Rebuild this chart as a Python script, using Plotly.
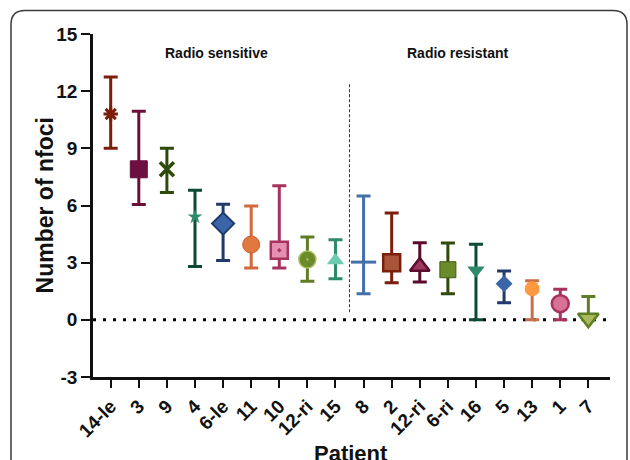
import plotly.graph_objects as go

patients = ["14-le", "3", "9", "4", "6-le", "11", "10", "12-ri", "15",
            "8", "2", "12-ri", "6-ri", "16", "5", "13", "1", "7"]
means = [10.8, 7.9, 7.9, 5.4, 5.05, 3.95, 3.65, 3.17, 3.12,
         3.03, 3.0, 2.8, 2.63, 2.6, 1.9, 1.63, 0.85, 0.08]
upper = [12.75, 10.95, 9.0, 6.8, 6.07, 5.98, 7.03, 4.35, 4.2,
         6.5, 5.6, 4.05, 4.03, 3.96, 2.56, 2.05, 1.6, 1.23]
lower = [9.0, 6.05, 6.68, 2.8, 3.12, 2.72, 2.72, 2.03, 2.16,
         1.37, 1.95, 1.98, 1.37, 0.0, 0.89, 0.0, 0.0, 0.0]
group_labels = ["Radio sensitive", "Radio resistant"]
y_ticks = [-3, 0, 3, 6, 9, 12, 15]

err_colors = ["#7B1E0A", "#6B0F3A", "#2E4A0A", "#0C4A34", "#1F3A6B", "#D2693A",
              "#A8325E", "#5E7D24", "#2E8B6A", "#4470A8", "#7A1F0A", "#5C0A2E",
              "#2F4A0A", "#0C4A34", "#1F3A6B", "#C8704A", "#A8325E", "#5E7D24"]
symbols = ["asterisk-open", "square", "x-thin-open", "star", "diamond", "circle",
           "square-dot", "circle-dot", "triangle-up", "line-ew-open", "square", "triangle-up",
           "square", "triangle-down", "diamond", "circle", "circle", "triangle-down"]
fills = ["#7B1E0A", "#6B1040", "#2E4A0A", "#2E8B6A", "#3A66A8", "#E07840",
         "#E590B0", "#6B8A2A", "#6CCBB0", "#4470A8", "#A9553A", "#9B3A60",
         "#6B8A2A", "#2E8B6A", "#3A66A8", "#FF9A40", "#D87098", "#A9B85A"]
line_cols = ["#7B1E0A", "#6B1040", "#2E4A0A", "#2E8B6A", "#1F3A6B", "#C86030",
             "#A8325E", "#A8BC60", "#6CCBB0", "#4470A8", "#7A1F0A", "#5C0A2E",
             "#3F5A12", "#2E8B6A", "#3A66A8", "#FF9A40", "#A8325E", "#5E7D24"]
line_ws = [3, 1, 3.5, 0, 2, 1, 2.5, 1.5, 0, 3, 2.5, 2.5, 1, 0, 0, 0, 2.5, 2.5]
sizes = [12, 17, 14, 11, 17, 17, 17, 17, 15, 18, 17, 17, 16, 15, 13, 15, 17, 18]

FONT = "Arial, Liberation Sans, sans-serif"
fig = go.Figure()

for i, p in enumerate(patients):
    fig.add_trace(go.Scatter(
        x=[i], y=[means[i]], mode="markers", showlegend=False,
        error_y=dict(type="data", symmetric=False,
                     array=[upper[i] - means[i]], arrayminus=[means[i] - lower[i]],
                     color=err_colors[i], thickness=3, width=7),
        marker=dict(symbol=symbols[i], size=sizes[i], color=fills[i],
                    line=dict(color=line_cols[i], width=line_ws[i])),
        name=p,
    ))

n = len(patients)
# zero reference line (dotted)
fig.add_shape(type="line", xref="paper", yref="y", x0=0, x1=1, y0=0, y1=0,
              line=dict(color="black", width=3, dash="3px,7px"), layer="below")
# group separator between the two groups
split = 8.5
fig.add_shape(type="line", xref="x", yref="y", x0=split, x1=split, y0=0.4, y1=12.45,
              line=dict(color="#333333", width=1, dash="3px,2px"), layer="below")

fig.add_annotation(x=3.75, y=14.0, xref="x", yref="y", text="<b>" + group_labels[0] + "</b>",
                   showarrow=False, font=dict(family=FONT, size=14, color="#111"))
fig.add_annotation(x=12.35, y=14.0, xref="x", yref="y", text="<b>" + group_labels[1] + "</b>",
                   showarrow=False, font=dict(family=FONT, size=14, color="#111"))
fig.add_annotation(x=8.55, y=-0.18, xref="x", yref="paper", yanchor="top",
                   text="<b>Patient</b>", showarrow=False,
                   font=dict(family=FONT, size=22, color="#111"))
fig.add_annotation(x=-0.093, y=0.5, xref="paper", yref="paper", textangle=-90,
                   xanchor="center", yanchor="middle",
                   text="<b>Number of nfoci</b>", showarrow=False,
                   font=dict(family=FONT, size=23, color="#111"))

# rounded frame (decorative)
W, H = 517.0, 342.6
def px(x): return (x - 93) / W
def py(y): return (377 - y) / H
x0, y0, x1, y1, r = 11, 11, 627, 480, 14
path = (f"M {px(x0)},{py(y0 + r)} "
        f"Q {px(x0)},{py(y0)} {px(x0 + r)},{py(y0)} "
        f"L {px(x1 - r)},{py(y0)} "
        f"Q {px(x1)},{py(y0)} {px(x1)},{py(y0 + r)} "
        f"L {px(x1)},{py(y1)} L {px(x0)},{py(y1)} Z")
fig.add_shape(type="path", xref="paper", yref="paper", path=path,
              line=dict(color="#3a3a3a", width=1.5), layer="below")

fig.update_layout(
    width=630, height=460, paper_bgcolor="white", plot_bgcolor="white",
    margin=dict(l=93, r=20, t=34, b=83, autoexpand=False),
    font=dict(family=FONT, color="#111"),
    xaxis=dict(range=[-0.63, n - 1 + 0.77], tickmode="array", automargin=False,
               tickvals=list(range(n)), ticktext=["<b>" + p + "</b>" for p in patients],
               tickangle=-45, ticks="outside", ticklen=8, tickwidth=2, tickcolor="#111",
               showline=True, linecolor="#111", linewidth=2.5, showgrid=False,
               zeroline=False, tickfont=dict(family=FONT, size=19, color="#111")),
    yaxis=dict(range=[-3, 15], tickmode="array", tickvals=y_ticks, automargin=False,
               ticktext=["<b>" + str(t) + "</b>" for t in y_ticks],
               ticks="outside", ticklen=9, tickwidth=2, tickcolor="#111",
               showline=True, linecolor="#111", linewidth=2.5, showgrid=False,
               zeroline=False, tickfont=dict(family=FONT, size=19, color="#111")),
)

fig.write_html("out.html", config={"displayModeBar": False},
               post_script="document.body.style.margin='0px';")
